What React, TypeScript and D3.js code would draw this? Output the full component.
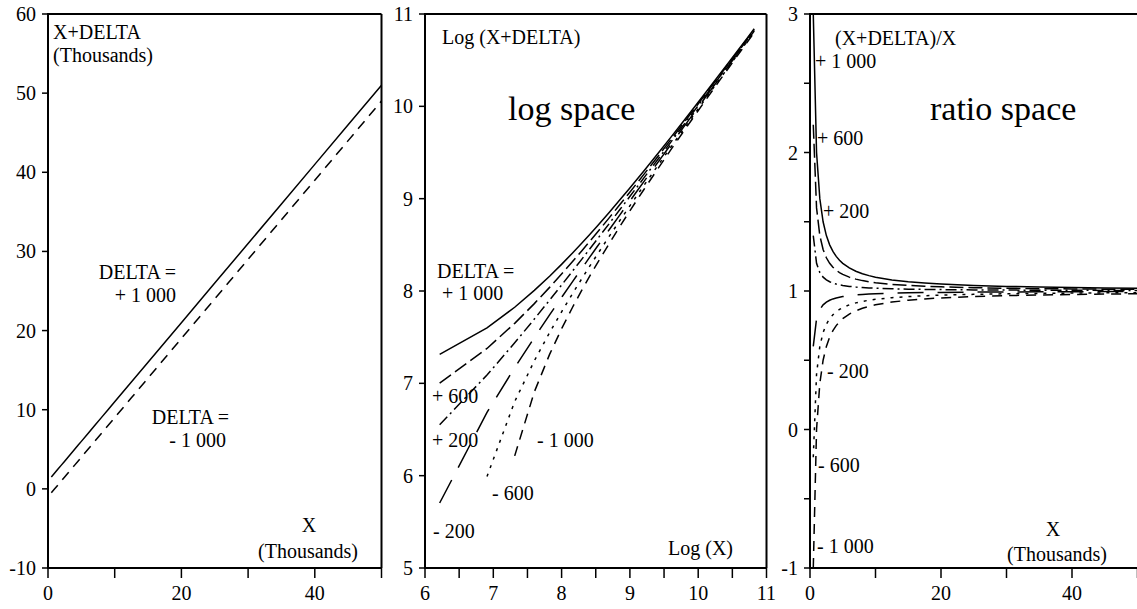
import * as d3 from 'd3';

// sample points of X (raw units) and the offsets applied to them
const X_VALUES = [
  500, 1000, 1500, 2000, 2500, 3000, 3500, 4000, 4500, 5000, 6000, 7000, 8000, 9000, 10000,
  12500, 15000, 17500, 20000, 25000, 30000, 35000, 40000, 45000, 50000,
];
const DELTAS = [1000, 600, 200, -200, -600, -1000];
const LINEAR_DELTAS = [1000, -1000];

// axis ticks
const THOUSANDS_TICKS = [0, 10, 20, 30, 40, 50];
const THOUSANDS_LABELS = [0, 20, 40];
const LINEAR_Y_TICKS = [-10, 0, 10, 20, 30, 40, 50, 60];
const LOG_X_TICKS = [6, 6.5, 7, 7.5, 8, 8.5, 9, 9.5, 10, 10.5, 11];
const LOG_X_LABELS = [6, 7, 8, 9, 10, 11];
const LOG_Y_TICKS = [5, 6, 7, 8, 9, 10, 11];
const RATIO_Y_TICKS = [-1, -0.5, 0, 0.5, 1, 1.5, 2, 2.5, 3];
const RATIO_Y_LABELS = [-1, 0, 1, 2, 3];

const DASH: Record<number, string> = {
  1000: 'none',
  600: '14 5',
  200: '11 4 2 4',
  '-200': '26 14',
  '-600': '3 6',
  '-1000': '10 7',
};

const FONT = '"Liberation Serif", "Times New Roman", Times, serif';
const TOP = 14;
const BOTTOM = 568;

type Pt = [number, number];
type Series = { delta: number; pts: Pt[] };

const linearSeries: Series[] = LINEAR_DELTAS.map((delta) => ({
  delta,
  pts: X_VALUES.map((x) => [x / 1000, (x + delta) / 1000] as Pt),
}));

const logSeries: Series[] = DELTAS.map((delta) => ({
  delta,
  pts: X_VALUES.filter((x) => x + delta > 0).map((x) => [Math.log(x), Math.log(x + delta)] as Pt),
}));

const ratioSeries: Series[] = DELTAS.map((delta) => ({
  delta,
  pts: X_VALUES.map((x) => [x / 1000, (x + delta) / x] as Pt),
}));

function Panel({
  left,
  right,
  xDomain,
  yDomain,
  xTicks,
  xLabels,
  yTicks,
  yLabels,
  series,
  rightBorder = true,
  children,
}: {
  left: number;
  right: number;
  xDomain: [number, number];
  yDomain: [number, number];
  xTicks: number[];
  xLabels: number[];
  yTicks: number[];
  yLabels: number[];
  series: Series[];
  rightBorder?: boolean;
  children?: any;
}) {
  const x = d3.scaleLinear().domain(xDomain).range([left, right]);
  const y = d3.scaleLinear().domain(yDomain).range([BOTTOM, TOP]);
  const line = d3
    .line<Pt>()
    .x((d) => x(d[0]))
    .y((d) => y(d[1]));

  return (
    <g>
      {series.map((s) => (
        <path
          key={s.delta}
          d={line(s.pts) || ''}
          fill="none"
          stroke="#000"
          strokeWidth={1.5}
          strokeDasharray={DASH[s.delta]}
        />
      ))}
      {/* frame */}
      <line x1={left} x2={right} y1={TOP} y2={TOP} stroke="#000" strokeWidth={2} />
      {rightBorder && <line x1={right} x2={right} y1={TOP} y2={BOTTOM} stroke="#000" strokeWidth={2} />}
      <line x1={left} x2={left} y1={TOP - 1} y2={BOTTOM + 1} stroke="#000" strokeWidth={2} />
      <line x1={left - 1} x2={right} y1={BOTTOM} y2={BOTTOM} stroke="#000" strokeWidth={2} />
      {xTicks.map((t) => (
        <line key={'xt' + t} x1={x(t)} x2={x(t)} y1={BOTTOM} y2={BOTTOM + 10} stroke="#000" strokeWidth={1.5} />
      ))}
      {xLabels.map((t) => (
        <text key={'xl' + t} x={x(t)} y={600} textAnchor="middle" fontSize={20} fontFamily={FONT}>
          {t}
        </text>
      ))}
      {yTicks.map((t) => (
        <line key={'yt' + t} x1={left - 6} x2={left} y1={y(t)} y2={y(t)} stroke="#000" strokeWidth={1.5} />
      ))}
      {yLabels.map((t) => (
        <text
          key={'yl' + t}
          x={left - 12}
          y={y(t)}
          dy="0.35em"
          textAnchor="end"
          fontSize={20}
          fontFamily={FONT}
        >
          {t}
        </text>
      ))}
      {children}
    </g>
  );
}

function T({ x, y, size = 20, anchor = 'start', children }: any) {
  return (
    <text x={x} y={y} fontSize={size} fontFamily={FONT} textAnchor={anchor}>
      {children}
    </text>
  );
}

export default function App() {
  return (
    <svg
      width={1137}
      height={609}
      style={{ position: 'absolute', left: 0, top: 0, background: '#fff' }}
    >
      <rect width={1137} height={609} fill="#fff" />
      <Panel
        left={48}
        right={381.5}
        xDomain={[0, 50]}
        yDomain={[-10, 60]}
        xTicks={THOUSANDS_TICKS}
        xLabels={THOUSANDS_LABELS}
        yTicks={LINEAR_Y_TICKS}
        yLabels={LINEAR_Y_TICKS}
        series={linearSeries}
      >
        <T x={53} y={39}>X+DELTA</T>
        <T x={53} y={62}>(Thousands)</T>
        <T x={176} y={279} anchor="end">DELTA =</T>
        <T x={176} y={302} anchor="end">+ 1 000</T>
        <T x={229} y={424} anchor="end">DELTA =</T>
        <T x={226} y={447} anchor="end">- 1 000</T>
        <T x={309} y={532} anchor="middle">X</T>
        <T x={308} y={558} anchor="middle">(Thousands)</T>
      </Panel>
      <Panel
        left={425}
        right={766.5}
        xDomain={[6, 11]}
        yDomain={[5, 11]}
        xTicks={LOG_X_TICKS}
        xLabels={LOG_X_LABELS}
        yTicks={LOG_Y_TICKS}
        yLabels={LOG_Y_TICKS}
        series={logSeries}
      >
        <T x={442} y={44}>Log (X+DELTA)</T>
        <T x={508} y={120} size={34}>log space</T>
        <T x={437} y={278}>DELTA =</T>
        <T x={442} y={300}>+ 1 000</T>
        <T x={432} y={403}>+ 600</T>
        <T x={432} y={447}>+ 200</T>
        <T x={537} y={447}>- 1 000</T>
        <T x={492} y={500}>- 600</T>
        <T x={433} y={538}>- 200</T>
        <T x={668} y={555}>Log (X)</T>
      </Panel>
      <Panel
        left={810}
        right={1137.5}
        xDomain={[0, 50]}
        yDomain={[-1, 3]}
        xTicks={THOUSANDS_TICKS}
        xLabels={THOUSANDS_LABELS}
        yTicks={RATIO_Y_TICKS}
        yLabels={RATIO_Y_LABELS}
        series={ratioSeries}
        rightBorder={false}
      >
        <T x={835} y={45}>(X+DELTA)/X</T>
        <T x={930} y={120} size={34}>ratio space</T>
        <T x={815} y={68}>+ 1 000</T>
        <T x={817} y={145}>+ 600</T>
        <T x={823} y={218}>+ 200</T>
        <T x={827} y={378}>- 200</T>
        <T x={818} y={472}>- 600</T>
        <T x={817} y={553}>- 1 000</T>
        <T x={1053} y={536} anchor="middle">X</T>
        <T x={1057} y={561} anchor="middle">(Thousands)</T>
      </Panel>
    </svg>
  );
}
